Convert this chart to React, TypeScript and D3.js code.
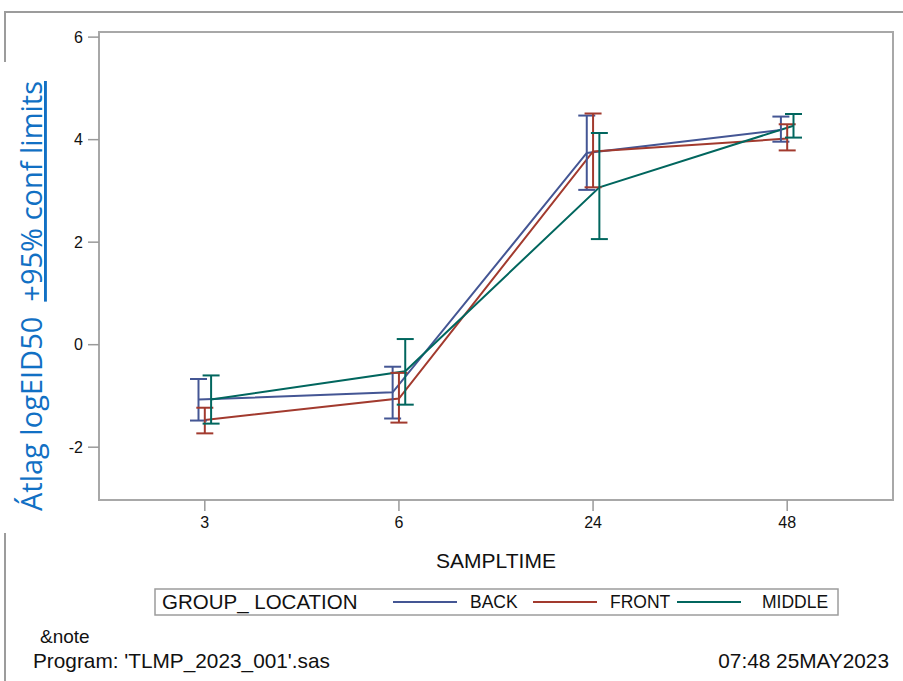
import React from "react";
import * as d3 from "d3";

// Sampling times (categorical x axis)
const sampleTimes = ["3", "6", "24", "48"];
const groups = ["BACK", "FRONT", "MIDDLE"];
const groupColors = ["#445694", "#A23A2E", "#01665E"];

// Mean logEID50 per group at each sampling time
const backMean = [-1.07, -0.93, 3.74, 4.19];
const frontMean = [-1.47, -1.05, 3.77, 4.02];
const middleMean = [-1.07, -0.52, 3.07, 4.27];

// 95% confidence limits
const backLower = [-1.48, -1.44, 3.02, 3.96];
const backUpper = [-0.67, -0.43, 4.47, 4.45];
const frontLower = [-1.73, -1.52, 3.07, 3.79];
const frontUpper = [-1.23, -0.55, 4.51, 4.3];
const middleLower = [-1.54, -1.17, 2.06, 4.04];
const middleUpper = [-0.6, 0.11, 4.13, 4.5];

const yTicks = [-2, 0, 2, 4, 6];

const W = 903;
const H = 681;
const frame = { left: 99, right: 893, top: 32, bottom: 500 };

const series = [
  { name: groups[0], mean: backMean, lower: backLower, upper: backUpper, color: groupColors[0] },
  { name: groups[1], mean: frontMean, lower: frontLower, upper: frontUpper, color: groupColors[1] },
  { name: groups[2], mean: middleMean, lower: middleLower, upper: middleUpper, color: groupColors[2] },
];

// Legend entry placement (line start, text start)
const legendSlots = [
  { lineX: 393, textX: 470 },
  { lineX: 533, textX: 610 },
  { lineX: 677, textX: 762 },
];

export default function App() {
  const x = d3.scalePoint<string>().domain(sampleTimes).range([frame.left, frame.right]).padding(0.545);
  const offset = d3.scalePoint<string>().domain(groups).range([-6.3, 6.3]);
  const y = d3.scaleLinear().domain([-3.03, 6.1]).range([frame.bottom, frame.top]);
  const line = d3
    .line<[number, number]>()
    .x((d) => d[0])
    .y((d) => d[1]);

  const axisGray = "#9a9a9a";
  const font = "'Liberation Sans', Arial, sans-serif";
  const capHalf = 8.5;

  return (
    <svg
      width={W}
      height={H}
      viewBox={`0 0 ${W} ${H}`}
      style={{ position: "absolute", left: 0, top: 0, background: "#fff" }}
    >
      {/* page border */}
      <line x1={5} x2={W} y1={12} y2={12} stroke="#9c9c9c" strokeWidth={2} />
      <line x1={5} x2={5} y1={11} y2={62} stroke="#9c9c9c" strokeWidth={2} />
      <line x1={5} x2={5} y1={533} y2={H} stroke="#9c9c9c" strokeWidth={2} />

      {/* plot frame */}
      <rect
        x={frame.left}
        y={frame.top}
        width={frame.right - frame.left}
        height={frame.bottom - frame.top}
        fill="none"
        stroke="#a8a8a8"
        strokeWidth={2}
      />

      {/* y axis */}
      {yTicks.map((t) => (
        <g key={t}>
          <line x1={frame.left - 11} x2={frame.left} y1={y(t)} y2={y(t)} stroke={axisGray} strokeWidth={1.5} />
          <text
            x={frame.left - 16}
            y={y(t)}
            dy="0.35em"
            textAnchor="end"
            fontFamily={font}
            fontSize={16}
            fill="#111"
          >
            {t}
          </text>
        </g>
      ))}

      {/* x axis */}
      {sampleTimes.map((s) => (
        <g key={s}>
          <line x1={x(s)} x2={x(s)} y1={frame.bottom} y2={frame.bottom + 11} stroke={axisGray} strokeWidth={1.5} />
          <text x={x(s)} y={frame.bottom + 28} textAnchor="middle" fontFamily={font} fontSize={16} fill="#111">
            {s}
          </text>
        </g>
      ))}
      <text
        x={(frame.left + frame.right) / 2}
        y={568}
        textAnchor="middle"
        fontFamily={font}
        fontSize={21}
        fill="#111"
      >
        SAMPLTIME
      </text>

      {/* y axis title */}
      <text
        transform={`translate(42, 296) rotate(-90)`}
        textAnchor="middle"
        fontFamily="'Open Sans', 'Noto Sans', sans-serif"
        fontSize={29}
        fill="#1170C4"
      >
        <tspan>{"Átlag logEID50\u00A0\u00A0"}</tspan>
        <tspan textDecoration="underline">+95% conf limits</tspan>
      </text>

      {/* mean lines */}
      {series.map((s) => (
        <path
          key={s.name}
          d={line(s.mean.map((v, i) => [x(sampleTimes[i])! + offset(s.name)!, y(v)]))!}
          fill="none"
          stroke={s.color}
          strokeWidth={2}
        />
      ))}

      {/* confidence limit bars */}
      {series.map((s) =>
        sampleTimes.map((t, i) => {
          const cx = x(t)! + offset(s.name)!;
          return (
            <g key={s.name + t} stroke={s.color} strokeWidth={2}>
              <line x1={cx} x2={cx} y1={y(s.lower[i])} y2={y(s.upper[i])} />
              <line x1={cx - capHalf} x2={cx + capHalf} y1={y(s.lower[i])} y2={y(s.lower[i])} />
              <line x1={cx - capHalf} x2={cx + capHalf} y1={y(s.upper[i])} y2={y(s.upper[i])} />
            </g>
          );
        })
      )}

      {/* legend */}
      <rect x={155} y={589} width={683} height={26} fill="#fff" stroke="#9c9c9c" strokeWidth={1.5} />
      <text x={162} y={609} fontFamily={font} fontSize={20.5} fill="#111">
        GROUP_ LOCATION
      </text>
      {series.map((s, i) => (
        <g key={s.name}>
          <line
            x1={legendSlots[i].lineX}
            x2={legendSlots[i].lineX + 64}
            y1={602}
            y2={602}
            stroke={s.color}
            strokeWidth={2}
          />
          <text x={legendSlots[i].textX} y={608} fontFamily={font} fontSize={17.5} fill="#111">
            {s.name}
          </text>
        </g>
      ))}

      {/* footer */}
      <text x={40} y={643} fontFamily={font} fontSize={19} fill="#111">
        &amp;note
      </text>
      <text x={33} y={668} fontFamily={font} fontSize={20.8} fill="#111">
        Program: 'TLMP_2023_001'.sas
      </text>
      <text x={889} y={668} textAnchor="end" fontFamily={font} fontSize={20.8} fill="#111">
        07:48 25MAY2023
      </text>
    </svg>
  );
}
